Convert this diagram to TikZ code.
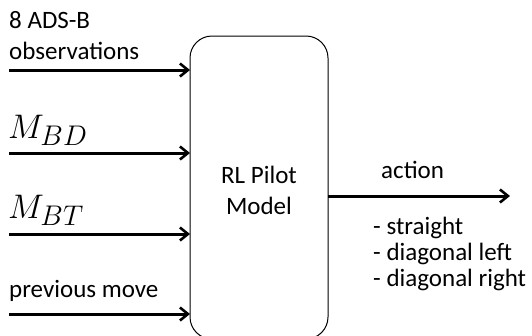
\documentclass[tikz,border=0pt]{standalone}
\usepackage{fontspec}
\setmainfont{Carlito}
\usetikzlibrary{arrows.meta}
\tikzset{
  lbl/.style={anchor=base west, inner sep=0pt, font=\fontsize{25}{31}\selectfont},
  mlbl/.style={anchor=base west, inner sep=0pt, font=\fontsize{24.88}{30}\selectfont},
  arr/.style={line width=3pt, -{Straight Barb[length=8pt,width=13pt,line width=2.6pt]}},
  modelbox/.style={draw, line width=1pt, rounded corners=22pt, inner sep=0pt}
}
\newcommand{\bigmath}[1]{\scalebox{1.37}{$#1$}}
\begin{document}
\begin{tikzpicture}[x=1pt,y=-1pt]
\useasboundingbox (0,0) rectangle (532,335);
\begin{scope}
\clip (0,0) rectangle (532,335);
\draw[modelbox] (190,36) rectangle (328,339);
\end{scope}
\coordinate (boxW) at (190,0);
\coordinate (boxE) at (328,0);
\node[lbl, font=\fontsize{25}{31}\selectfont, align=center, anchor=center] (model) at (259,190) {RL Pilot\\Model};
% inputs
\coordinate (in1) at (9,70);
\coordinate (in2) at (9,153);
\coordinate (in3) at (9,234);
\coordinate (in4) at (9,314);
\draw[arr] (in1) -- (in1 -| boxW);
\draw[arr] (in2) -- (in2 -| boxW);
\draw[arr] (in3) -- (in3 -| boxW);
\draw[arr] (in4) -- (in4 -| boxW);
\node[lbl] (t1a) at (9,28) {8 ADS-B};
\node[lbl] (t1b) at (9,59) {observations};
\node[mlbl] (t2) at (8,138) {\bigmath{M_{BD}}};
\node[mlbl] (t3) at (8,218) {\bigmath{M_{BT}}};
\node[lbl] (t4) at (9,297) {previous move};
% output
\coordinate (outS) at (328,196);
\coordinate (outE) at (510,196);
\draw[arr] (outS) -- (outE);
\node[lbl] (act) at (381,178) {action};
\node[lbl] (o1) at (373,234) {- straight};
\node[lbl] (o2) at (373,260) {- diagonal left};
\node[lbl] (o3) at (373,286) {- diagonal right};
\end{tikzpicture}
\end{document}
